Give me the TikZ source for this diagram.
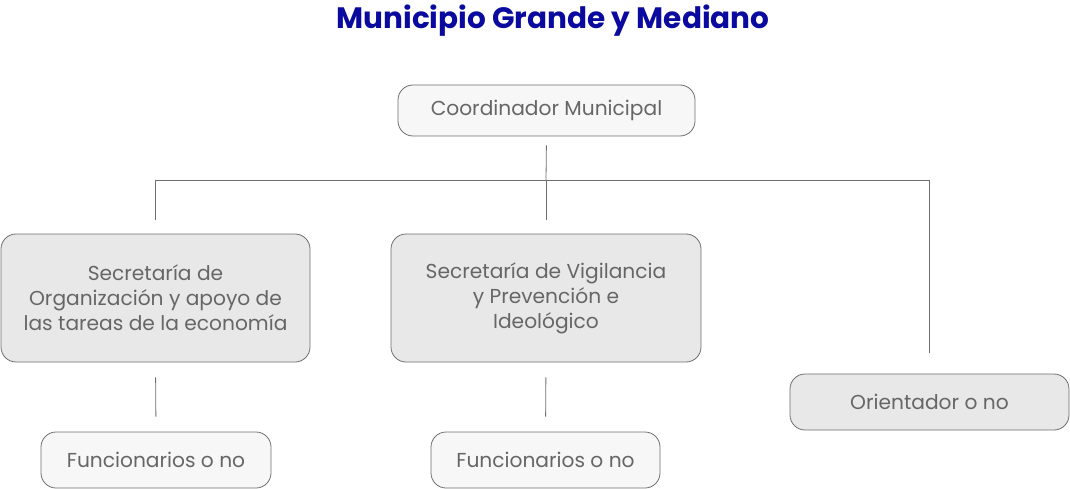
\documentclass[tikz,border=0pt]{standalone}
\usepackage{fontspec}
\setmainfont{Poppins}
\usetikzlibrary{positioning}

\definecolor{boxline}{HTML}{6E6E6E}
\definecolor{boxtext}{HTML}{666666}
\definecolor{lightfill}{HTML}{F7F7F7}
\definecolor{darkfill}{HTML}{E8E8E8}
\definecolor{titleblue}{HTML}{0A0A9E}

\tikzset{
  unit/.style={draw=boxline, rounded corners=15pt, text=boxtext, align=center,
    font=\fontsize{20.2}{25}\selectfont, inner sep=0pt, line width=0.8pt},
  toplevel/.style={unit, fill=lightfill},
  midlevel/.style={unit, fill=darkfill},
  link/.style={draw=boxline, line width=0.8pt}
}

\begin{document}
\begin{tikzpicture}[x=1pt,y=-1pt]
		\useasboundingbox (0,0) rectangle (1070,489);

		% title
		\node[text=titleblue, font=\fontsize{29.5}{32}\selectfont\bfseries] (title) at (553,21) {Municipio Grande y Mediano};

		% boxes
		\node[toplevel, minimum width=297pt, minimum height=51pt] (coord) at (546.5,110.5) {Coordinador Municipal};
		\node[midlevel, minimum width=309pt, minimum height=128pt] (secorg) at (155.5,298) {Secretaría de\\Organización y apoyo de\\las tareas de la economía};
		\node[midlevel, minimum width=310pt, minimum height=128pt] (secvig) at (546,298) {Secretaría de Vigilancia\\y Prevención e\\Ideológico};
		\node[midlevel, minimum width=279pt, minimum height=56pt] (orient) at (929.5,402) {Orientador o no};
		\node[toplevel, minimum width=230pt, minimum height=56pt] (funcorg) at (156,460) {Funcionarios o no};
		\node[toplevel, minimum width=229pt, minimum height=56pt] (funcvig) at (545.5,460) {Funcionarios o no};

		% connectors
		\coordinate (junction) at (546,180);
		\draw[link, shorten <=9pt] (coord.south) -- (junction);
		\draw[link, shorten >=14pt] (junction) -- (secvig.north);
		\draw[link, shorten >=14pt] (junction) -| (secorg.north);
		\draw[link, shorten >=21pt] (junction) -| (orient.north);
		\draw[link, shorten <=15pt, shorten >=15pt] (secorg.south) -- (funcorg.north);
		\draw[link, shorten <=15pt, shorten >=15pt] (secvig.south) -- (funcvig.north);
\end{tikzpicture}
\end{document}
